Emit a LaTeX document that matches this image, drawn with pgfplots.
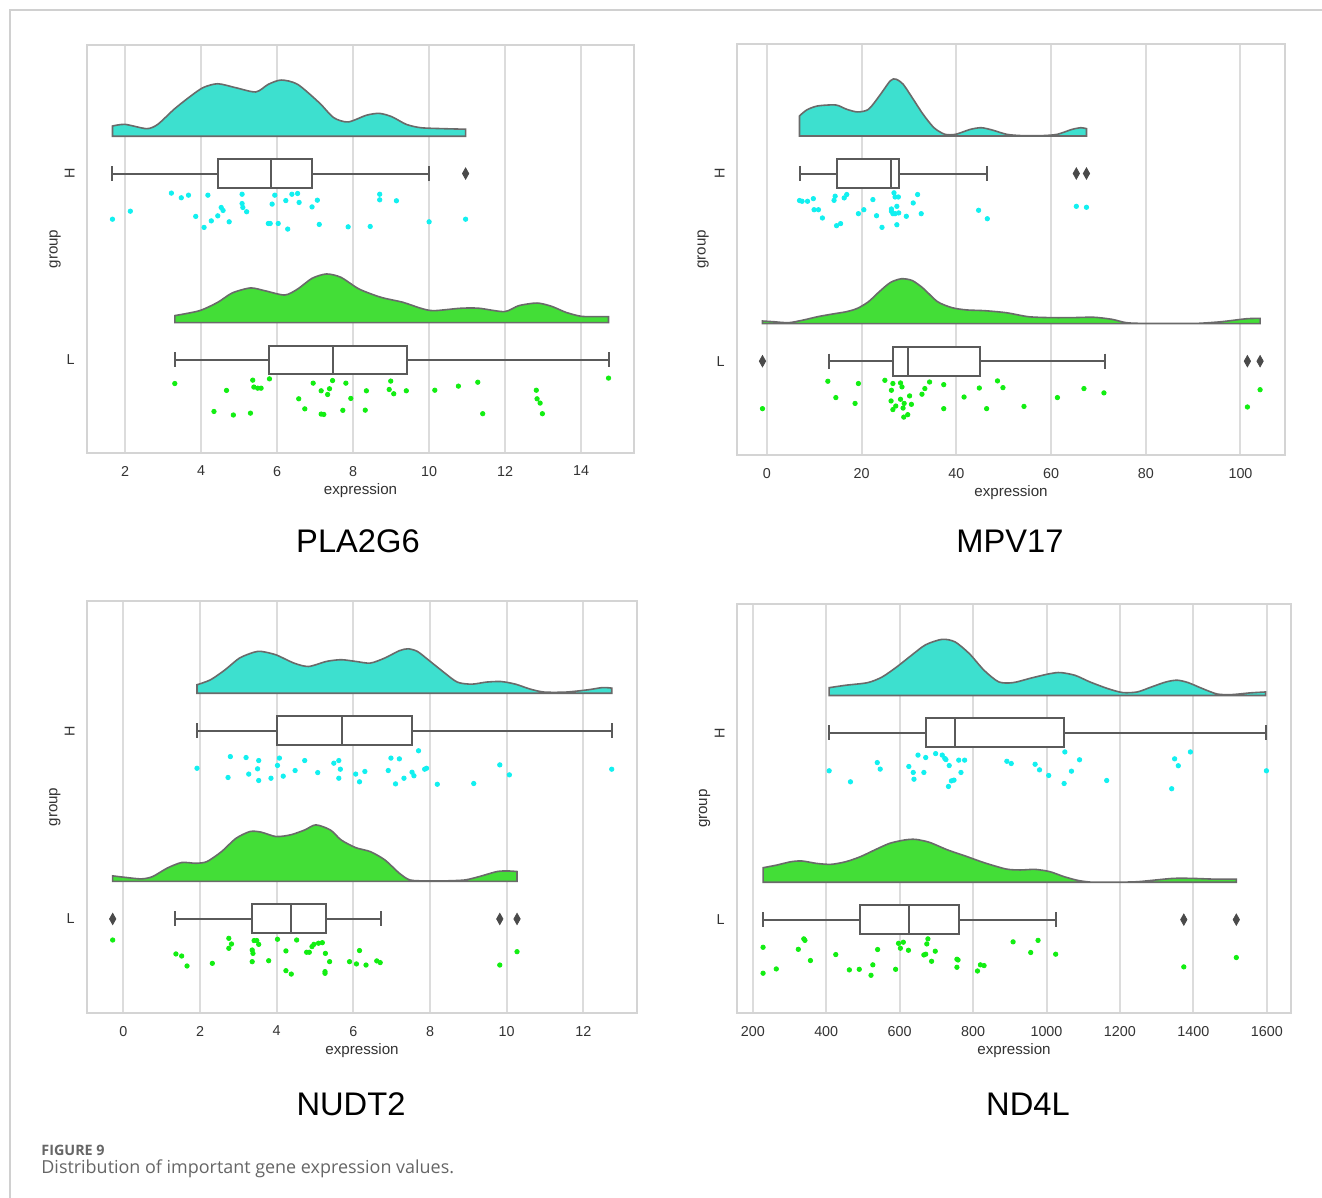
\documentclass[border=0pt]{standalone}
\usepackage{pgfplots}
\pgfplotsset{compat=1.18}
\usepackage{fontspec}
\setmainfont{Liberation Sans}
\newfontfamily\capfont{Open Sans}
\definecolor{turq}{HTML}{3DE0CF}
\definecolor{grn}{HTML}{43DE37}
\definecolor{ptc}{HTML}{12F0F0}
\definecolor{ptl}{HTML}{12EE12}
\definecolor{edgec}{HTML}{6A6A6A}
\definecolor{boxc}{HTML}{5A5A5A}
\definecolor{framec}{HTML}{D4D4D4}
\definecolor{gridc}{HTML}{DCDCDC}
\definecolor{tickc}{HTML}{333333}
\definecolor{outc}{HTML}{4A4A4A}
\definecolor{capc}{HTML}{666666}
\definecolor{pagec}{HTML}{D0D0D0}

\pgfplotsset{
  rain/.style={
    scale only axis, anchor=south west,
    y dir=reverse, ymin=-0.69, ymax=1.5,
    ytick={0,1}, yticklabels={\rotatebox{90}{H},L},
    axis line style={draw=framec, line width=1bp},
    xmajorgrids, grid style={draw=gridc, line width=1bp},
    major tick length=0pt,
    scaled x ticks=false,
    /pgf/number format/1000 sep={},
    /pgf/number format/assume math mode=true,
    tick label style={font=\fontsize{7.2}{8}\selectfont, text=tickc},
    xticklabel style={inner sep=0pt, anchor=north, yshift=-6.3bp},
    yticklabel style={inner sep=0pt, anchor=east, xshift=-6bp},
    xlabel=expression, ylabel=group,
    label style={font=\fontsize{7.6}{8}\selectfont, text=tickc, inner sep=0pt},
    xlabel style={at={(axis description cs:0.5,-0.092)}, anchor=center},
    ylabel style={at={(axis description cs:-0.0585,0.5)}, anchor=center},
  },
  cloudH/.style={fill=turq, draw=edgec, line width=0.8bp, smooth, tension=0.45},
  cloudL/.style={fill=grn, draw=edgec, line width=0.8bp, smooth, tension=0.45},
  bx/.style={draw=boxc, line width=1bp},
  ptH/.style={only marks, mark=*, mark size=1.1bp, color=ptc},
  ptL/.style={only marks, mark=*, mark size=1.1bp, color=ptl},
  outl/.style={only marks, mark=diamond*, mark size=2.8bp, mark options={xscale=0.75}, color=outc},
}

\newcommand\HBox[5]{%
  \addplot[bx] coordinates {(#1,0)(#2,0)};
  \addplot[bx] coordinates {(#4,0)(#5,0)};
  \addplot[bx] coordinates {(#1,-0.04)(#1,0.04)};
  \addplot[bx] coordinates {(#5,-0.04)(#5,0.04)};
  \addplot[bx, fill=white] coordinates {(#2,-0.077)(#4,-0.077)(#4,0.077)(#2,0.077)} -- cycle;
  \addplot[bx] coordinates {(#3,-0.077)(#3,0.077)};
}
\newcommand\LBox[5]{%
  \addplot[bx] coordinates {(#1,1)(#2,1)};
  \addplot[bx] coordinates {(#4,1)(#5,1)};
  \addplot[bx] coordinates {(#1,0.96)(#1,1.04)};
  \addplot[bx] coordinates {(#5,0.96)(#5,1.04)};
  \addplot[bx, fill=white] coordinates {(#2,0.923)(#4,0.923)(#4,1.077)(#2,1.077)} -- cycle;
  \addplot[bx] coordinates {(#3,0.923)(#3,1.077)};
}

\begin{document}
\begin{tikzpicture}
\useasboundingbox (0,0) rectangle (661bp,-599bp);
\fill[white] (0,0) rectangle (661bp,-599bp);
\draw[pagec, line width=0.6bp] (661bp,-5bp) -- (5bp,-5bp) -- (5bp,-599bp);

% ---------------- PLA2G6 ----------------
\begin{axis}[rain, at={(43.5bp,-226.5bp)}, width=273.5bp, height=204bp,
  xmin=1.0, xmax=15.39, xtick={2,4,6,8,10,12,14}]
\addplot[cloudH] coordinates {(1.67,-0.255) (2.0,-0.264) (2.57,-0.241) (2.86,-0.264) (3.29,-0.345) (3.67,-0.407) (4.05,-0.461) (4.44,-0.482) (4.91,-0.461) (5.44,-0.438) (5.77,-0.479) (6.11,-0.502) (6.54,-0.479) (7.11,-0.38) (7.49,-0.30) (7.87,-0.277) (8.35,-0.313) (8.69,-0.323) (9.02,-0.305) (9.40,-0.264) (9.78,-0.246) (10.36,-0.241) (10.96,-0.238)} -- (10.96,-0.2) -- (1.67,-0.2) -- cycle;
\addplot[cloudL] coordinates {(3.31,0.7625) (3.96,0.736) (4.44,0.691) (4.82,0.641) (5.30,0.614) (5.68,0.629) (6.20,0.652) (6.54,0.620) (6.92,0.5625) (7.30,0.539) (7.68,0.557) (8.16,0.620) (8.73,0.664) (9.31,0.691) (9.78,0.723) (10.12,0.736) (10.83,0.723) (11.31,0.723) (11.98,0.741) (12.36,0.709) (12.84,0.695) (13.22,0.7125) (13.60,0.745) (13.99,0.766) (14.37,0.768) (14.72,0.768)} -- (14.72,0.8) -- (3.31,0.8) -- cycle;
\HBox{1.67}{4.44}{5.84}{6.93}{10.00}
\LBox{3.31}{5.80}{7.46}{9.42}{14.72}
\addplot[outl] coordinates {(10.96,0)};
\addplot[ptH] coordinates {(3.22,0.105)(3.48,0.130)(3.67,0.116)(4.18,0.116)(5.08,0.111)(5.94,0.116)(6.39,0.111)(6.54,0.107)(6.23,0.145)(6.58,0.155)(7.06,0.143)(8.70,0.111)(8.70,0.141)(9.14,0.146)(2.14,0.202)(1.67,0.245)(3.86,0.230)(4.44,0.227)(4.27,0.254)(4.53,0.182)(4.58,0.198)(5.08,0.161)(5.10,0.182)(5.20,0.205)(5.87,0.164)(6.92,0.179)(4.08,0.289)(4.74,0.259)(5.77,0.268)(5.82,0.268)(6.03,0.268)(6.28,0.298)(7.11,0.273)(7.87,0.286)(8.45,0.284)(10.00,0.259)(10.96,0.245)};
\addplot[ptL] coordinates {(3.31,1.127)(5.36,1.109)(5.80,1.102)(5.39,1.146)(5.49,1.152)(5.58,1.152)(4.67,1.164)(6.95,1.125)(7.46,1.111)(7.81,1.125)(8.99,1.114)(11.28,1.120)(14.72,1.098)(7.16,1.166)(7.38,1.155)(7.33,1.186)(8.35,1.166)(8.95,1.159)(9.07,1.182)(9.40,1.166)(10.15,1.163)(10.77,1.141)(12.82,1.163)(12.84,1.209)(12.92,1.232)(6.57,1.209)(7.94,1.207)(4.34,1.277)(4.85,1.296)(5.30,1.286)(6.73,1.263)(7.16,1.291)(7.23,1.293)(7.73,1.271)(8.32,1.270)(11.41,1.289)(12.98,1.289)};
\end{axis}

% ---------------- MPV17 ----------------
\begin{axis}[rain, at={(368.5bp,-227.5bp)}, width=274bp, height=205.5bp,
  xmin=-6.3, xmax=109.4, xtick={0,20,40,60,80,100},
  ylabel style={at={(axis description cs:-0.062,0.5)}}]
\addplot[cloudH] coordinates {(6.90,-0.307)(8.44,-0.339)(10.74,-0.360)(14.57,-0.365)(16.87,-0.342)(19.17,-0.328)(21.47,-0.342)(23.77,-0.414)(26.07,-0.494)(27.22,-0.503)(28.76,-0.476)(30.67,-0.405)(32.98,-0.316)(35.28,-0.244)(37.58,-0.209)(39.88,-0.209)(42.94,-0.235)(45.25,-0.244)(47.55,-0.232)(50.61,-0.209)(53.68,-0.202)(58.28,-0.202)(61.35,-0.209)(64.42,-0.235)(66.33,-0.244)(67.48,-0.239)} -- (67.48,-0.2) -- (6.90,-0.2) -- cycle;
\addplot[cloudL] coordinates {(-0.92,0.786)(1.53,0.790)(4.60,0.795)(7.67,0.781)(10.74,0.763)(13.80,0.749)(16.87,0.736)(19.17,0.718)(21.47,0.683)(23.77,0.629)(26.07,0.581)(28.37,0.561)(30.67,0.570)(32.98,0.611)(36.04,0.683)(39.11,0.715)(42.18,0.727)(46.01,0.731)(50.61,0.742)(55.21,0.763)(59.82,0.768)(64.42,0.768)(69.02,0.766)(72.85,0.777)(75.92,0.795)(79.75,0.799)(84.36,0.799)(90.49,0.799)(95.86,0.790)(101.23,0.774)(104.14,0.772)} -- (104.14,0.8) -- (-0.92,0.8) -- cycle;
\HBox{6.90}{14.72}{26.23}{27.99}{46.55}
\LBox{13.04}{26.69}{29.75}{45.09}{71.32}
\addplot[outl] coordinates {(65.34,0)(67.48,0)(-0.92,1)(101.46,1)(104.14,1)};
\addplot[ptH] coordinates {(6.90,0.144)(7.44,0.148)(8.59,0.148)(9.82,0.134)(14.42,0.121)(14.19,0.143)(16.33,0.130)(16.87,0.112)(22.39,0.139)(26.84,0.103)(27.07,0.125)(27.76,0.125)(31.83,0.112)(30.90,0.157)(9.97,0.193)(10.89,0.193)(11.73,0.237)(19.33,0.214)(20.48,0.193)(23.16,0.225)(26.30,0.189)(26.30,0.201)(26.61,0.214)(27.07,0.214)(27.45,0.175)(27.84,0.210)(29.45,0.228)(32.59,0.214)(14.72,0.278)(15.57,0.267)(24.31,0.287)(27.45,0.273)(44.71,0.196)(46.55,0.241)(65.34,0.175)(67.48,0.180)};
\addplot[ptL] coordinates {(12.88,1.107)(19.33,1.119)(24.92,1.102)(26.61,1.119)(28.22,1.116)(28.53,1.137)(26.30,1.155)(34.36,1.111)(37.35,1.125)(33.36,1.146)(32.75,1.176)(48.70,1.105)(49.85,1.141)(44.86,1.143)(66.95,1.146)(71.17,1.169)(104.14,1.152)(14.57,1.194)(18.63,1.225)(26.23,1.212)(28.22,1.203)(30.14,1.185)(28.99,1.225)(30.52,1.230)(27.22,1.239)(26.61,1.258)(28.76,1.250)(37.35,1.253)(41.64,1.191)(46.40,1.253)(54.29,1.241)(61.35,1.194)(101.46,1.244)(-0.92,1.253)(28.91,1.298)(29.75,1.285)};
\end{axis}

% ---------------- NUDT2 ----------------
\begin{axis}[rain, at={(43.5bp,-506.5bp)}, width=275bp, height=206bp,
  xmin=-0.95, xmax=13.4, xtick={0,2,4,6,8,10,12}]
\addplot[cloudH] coordinates {(1.92,-0.245)(2.27,-0.271)(2.65,-0.324)(3.03,-0.387)(3.41,-0.418)(3.60,-0.422)(3.98,-0.404)(4.45,-0.360)(4.83,-0.342)(5.30,-0.369)(5.68,-0.378)(6.06,-0.369)(6.44,-0.360)(6.82,-0.387)(7.20,-0.426)(7.43,-0.436)(7.67,-0.422)(7.95,-0.378)(8.33,-0.316)(8.71,-0.259)(9.09,-0.248)(9.47,-0.259)(9.85,-0.262)(10.23,-0.248)(10.61,-0.222)(10.98,-0.206)(11.55,-0.206)(12.12,-0.218)(12.50,-0.230)(12.74,-0.227)} -- (12.74,-0.2) -- (1.92,-0.2) -- cycle;
\addplot[cloudL] coordinates {(-0.28,0.771)(0.09,0.780)(0.47,0.787)(0.76,0.775)(1.14,0.730)(1.52,0.700)(1.89,0.704)(2.18,0.695)(2.56,0.642)(2.94,0.571)(3.31,0.535)(3.60,0.539)(3.98,0.562)(4.36,0.553)(4.73,0.527)(5.02,0.500)(5.40,0.527)(5.68,0.580)(6.06,0.621)(6.44,0.642)(6.82,0.686)(7.20,0.757)(7.48,0.793)(7.95,0.798)(8.33,0.798)(8.90,0.793)(9.28,0.775)(9.75,0.748)(10.04,0.745)(10.27,0.748)} -- (10.27,0.8) -- (-0.28,0.8) -- cycle;
\HBox{1.92}{4.01}{5.70}{7.53}{12.74}
\LBox{1.35}{3.36}{4.38}{5.28}{6.72}
\addplot[outl] coordinates {(-0.28,1)(9.82,1)(10.27,1)};
\addplot[ptH] coordinates {(1.92,0.199)(2.79,0.137)(3.20,0.142)(3.53,0.158)(4.07,0.145)(4.73,0.158)(5.49,0.172)(5.62,0.158)(6.98,0.145)(7.20,0.149)(7.70,0.106)(3.50,0.202)(4.02,0.184)(4.48,0.211)(5.07,0.222)(5.66,0.204)(6.30,0.216)(6.91,0.211)(7.53,0.220)(7.86,0.204)(7.91,0.199)(9.82,0.181)(2.73,0.248)(3.27,0.230)(3.85,0.252)(4.17,0.241)(3.53,0.264)(5.62,0.252)(6.06,0.230)(6.16,0.271)(7.10,0.282)(7.32,0.252)(7.58,0.239)(8.19,0.284)(9.14,0.280)(10.07,0.234)(12.74,0.204)};
\addplot[ptL] coordinates {(-0.28,1.112)(2.75,1.103)(2.82,1.133)(2.75,1.156)(3.41,1.115)(3.48,1.115)(3.53,1.135)(4.02,1.108)(4.52,1.112)(4.92,1.147)(4.97,1.135)(5.09,1.129)(5.19,1.126)(1.37,1.186)(1.52,1.197)(1.66,1.250)(2.32,1.236)(3.36,1.165)(3.38,1.183)(3.36,1.227)(3.79,1.222)(4.24,1.170)(4.78,1.177)(4.85,1.177)(5.27,1.183)(5.38,1.227)(5.90,1.227)(6.08,1.239)(6.33,1.245)(6.16,1.168)(6.61,1.223)(6.70,1.232)(10.27,1.174)(9.82,1.245)(4.24,1.275)(4.38,1.293)(5.26,1.280)(5.26,1.289)};
\end{axis}

% ---------------- ND4L ----------------
\begin{axis}[rain, at={(368.5bp,-506.5bp)}, width=277bp, height=204.5bp,
  xmin=157, xmax=1666, xtick={200,400,600,800,1000,1200,1400,1600}]
\addplot[cloudH] coordinates {(408,-0.242)(453,-0.255)(513,-0.269)(552,-0.299)(592,-0.353)(632,-0.415)(671,-0.472)(716,-0.501)(751,-0.487)(790,-0.424)(830,-0.335)(870,-0.273)(909,-0.269)(959,-0.294)(1009,-0.317)(1038,-0.323)(1078,-0.308)(1118,-0.273)(1167,-0.237)(1207,-0.216)(1247,-0.219)(1286,-0.246)(1326,-0.273)(1356,-0.282)(1386,-0.269)(1425,-0.237)(1465,-0.208)(1505,-0.205)(1554,-0.214)(1597,-0.219)} -- (1597,-0.2) -- (408,-0.2) -- cycle;
\addplot[cloudL] coordinates {(228,0.722)(265,0.708)(304,0.690)(334,0.686)(374,0.699)(413,0.704)(453,0.690)(493,0.663)(532,0.627)(572,0.592)(612,0.574)(642,0.570)(681,0.586)(731,0.627)(780,0.660)(830,0.695)(890,0.729)(929,0.734)(969,0.731)(1009,0.743)(1048,0.770)(1088,0.791)(1128,0.800)(1187,0.800)(1247,0.797)(1296,0.788)(1346,0.779)(1395,0.779)(1455,0.783)(1517,0.783)} -- (1517,0.8) -- (228,0.8) -- cycle;
\HBox{408}{671}{751}{1048}{1599}
\LBox{228}{491}{625}{761}{1026}
\addplot[outl] coordinates {(1374,1)(1517,1)};
\addplot[ptH] coordinates {(408,0.203)(539,0.159)(547,0.194)(625,0.180)(637,0.212)(639,0.248)(650,0.119)(666,0.212)(671,0.132)(698,0.111)(716,0.119)(723,0.137)(726,0.143)(735,0.175)(741,0.257)(748,0.253)(761,0.146)(767,0.212)(777,0.146)(733,0.287)(892,0.152)(904,0.164)(969,0.168)(981,0.198)(1006,0.228)(1048,0.271)(1050,0.102)(1068,0.205)(1090,0.144)(466,0.262)(1164,0.255)(1349,0.139)(1359,0.176)(1341,0.299)(1392,0.102)(1599,0.203)};
\addplot[ptL] coordinates {(228,1.148)(228,1.287)(264,1.264)(324,1.159)(339,1.103)(342,1.111)(357,1.219)(426,1.187)(463,1.269)(490,1.266)(527,1.242)(522,1.298)(540,1.160)(589,1.266)(597,1.127)(602,1.153)(610,1.121)(624,1.164)(666,1.189)(671,1.185)(674,1.130)(677,1.103)(687,1.223)(697,1.169)(756,1.212)(759,1.216)(756,1.255)(812,1.275)(820,1.242)(830,1.246)(909,1.119)(957,1.176)(977,1.111)(1025,1.185)(1374,1.253)(1517,1.203)};
\end{axis}

% ---------------- titles and caption ----------------
\node[font=\fontsize{16.4}{19}\selectfont] at (179bp,-270.5bp) {PLA2G6};
\node[font=\fontsize{16.4}{19}\selectfont] at (505bp,-270.5bp) {MPV17};
\node[font=\fontsize{16.4}{19}\selectfont] at (175.5bp,-552bp) {NUDT2};
\node[font=\fontsize{16.4}{19}\selectfont] at (514bp,-552bp) {ND4L};
\node[anchor=west, inner sep=0pt, text=capc, font=\capfont\bfseries\fontsize{7.2}{8}\selectfont] at (20.5bp,-575bp) {FIGURE 9};
\node[anchor=west, inner sep=0pt, text=capc, font=\capfont\fontsize{9}{10}\selectfont] at (20.5bp,-584.5bp) {Distribution of important gene expression values.};
\end{tikzpicture}
\end{document}
